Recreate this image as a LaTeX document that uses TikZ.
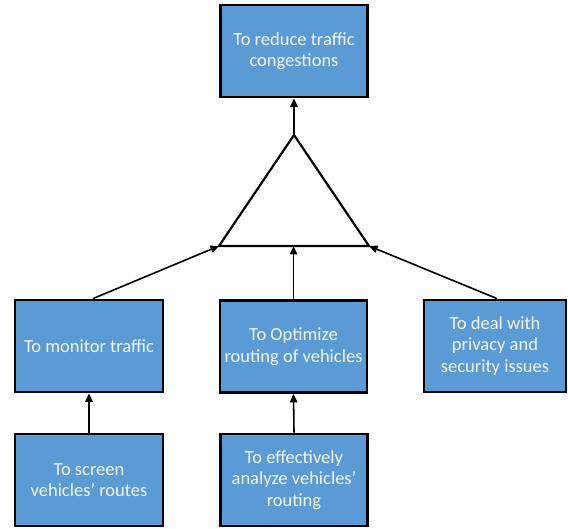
\documentclass[tikz,border=0pt]{standalone}
\usepackage{fontspec}
\setmainfont{Carlito}
\usetikzlibrary{arrows.meta}
\definecolor{boxblue}{HTML}{5B9BD5}
\definecolor{boxtext}{HTML}{F2F6FB}
\begin{document}
\begin{tikzpicture}[x=1pt,y=-1pt,
  goal/.style={draw=black, line width=2.8pt, fill=boxblue, text=boxtext,
    minimum width=147pt, minimum height=92pt, align=center, inner sep=2pt,
    font=\fontsize{18.5}{21.5}\selectfont},
  link/.style={line width=1.6pt, -{Triangle[length=8.5pt,width=7.5pt]}}]
\useasboundingbox (0,0) rectangle (568,529);
% goal boxes
\node[goal] (top) at (294,51) {To reduce traffic\\congestions};
\node[goal, minimum width=148pt] (mon) at (89,346) {To monitor traffic};
\node[goal] (opt) at (293.5,346.5) {To Optimize\\routing of vehicles};
\node[goal, minimum width=142pt] (priv) at (495,346) {To deal with\\privacy and\\security issues};
\node[goal, minimum width=148pt] (scr) at (89,480) {To screen\\vehicles' routes};
\node[goal] (ana) at (294,480) {To effectively\\analyze vehicles'\\routing};
% aggregation triangle
\coordinate (apex) at (294,135);
\coordinate (bl) at (219,246);
\coordinate (br) at (369,246);
\draw[line width=2.2pt, line join=miter] (apex) -- (bl) -- (br) -- cycle;
% connectors
\draw[link] (apex) -- (top.south);
\draw[link] ([xshift=4pt]mon.north) -- (bl);
\draw[link] (opt.north) -- (opt.north |- bl);
\draw[link] ([xshift=2pt]priv.north) -- (br);
\draw[link] (scr.north) -- (mon.south);
\draw[link] (ana.north) -- (opt.south);
\end{tikzpicture}
\end{document}
